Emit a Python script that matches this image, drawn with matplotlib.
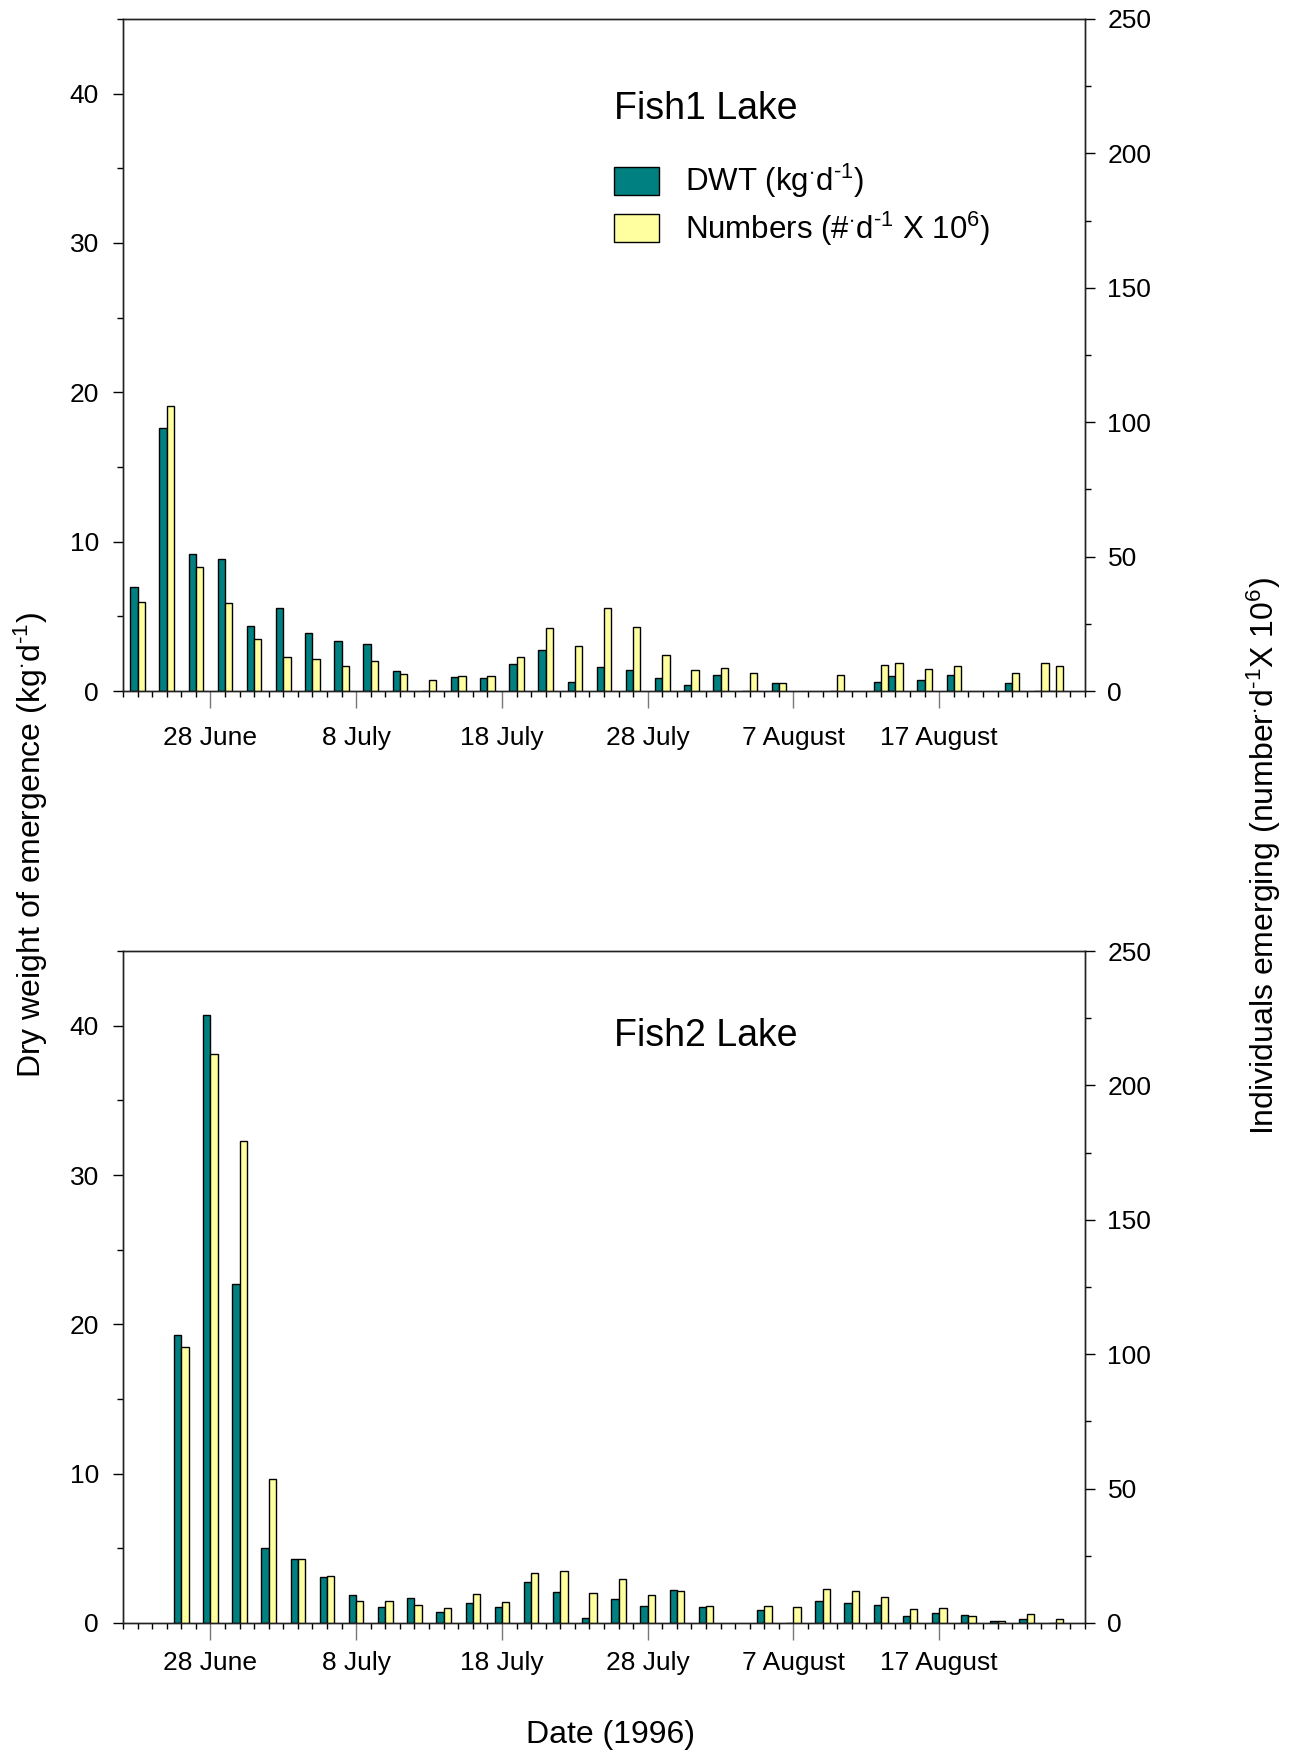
import numpy as np
import matplotlib
matplotlib.use('Agg')
import matplotlib.pyplot as plt
import matplotlib.dates as mdates
from matplotlib.patches import Patch
from matplotlib.ticker import FixedLocator, FuncFormatter, MultipleLocator

plt.rcParams['font.family'] = ['Liberation Sans', 'DejaVu Sans']
plt.rcParams['mathtext.fontset'] = 'custom'
plt.rcParams['mathtext.rm'] = 'Liberation Sans'
plt.rcParams['mathtext.it'] = 'Liberation Sans:italic'
plt.rcParams['mathtext.bf'] = 'Liberation Sans:bold'

# Fish1 Lake
fish1_dates = ['1996-06-23', '1996-06-25', '1996-06-27', '1996-06-29', '1996-07-01',
               '1996-07-03', '1996-07-05', '1996-07-07', '1996-07-09', '1996-07-11',
               '1996-07-13', '1996-07-15', '1996-07-17', '1996-07-19', '1996-07-21',
               '1996-07-23', '1996-07-25', '1996-07-27', '1996-07-29', '1996-07-31',
               '1996-08-02', '1996-08-04', '1996-08-06', '1996-08-10', '1996-08-13',
               '1996-08-14', '1996-08-16', '1996-08-18', '1996-08-22', '1996-08-24',
               '1996-08-25']
fish1_dwt = [6.96, 17.6, 9.15, 8.82, 4.38, 5.56, 3.88, 3.33, 3.15, 1.32,
             0.0, 0.96, 0.89, 1.81, 2.77, 0.62, 1.63, 1.43, 0.85, 0.40,
             1.05, 0.0, 0.51, 0.0, 0.58, 0.98, 0.73, 1.05, 0.53, 0.0, 0.0]
fish1_num = [33.2, 105.9, 46.1, 32.9, 19.2, 12.8, 11.9, 9.2, 11.2, 6.4,
             4.0, 5.5, 5.7, 12.5, 23.3, 16.8, 30.9, 23.9, 13.5, 7.9,
             8.5, 6.7, 3.1, 5.9, 9.65, 10.4, 8.2, 9.4, 6.7, 10.3, 9.5]

# Fish2 Lake
fish2_dates = ['1996-06-26', '1996-06-28', '1996-06-30', '1996-07-02', '1996-07-04',
               '1996-07-06', '1996-07-08', '1996-07-10', '1996-07-12', '1996-07-14',
               '1996-07-16', '1996-07-18', '1996-07-20', '1996-07-22', '1996-07-24',
               '1996-07-26', '1996-07-28', '1996-07-30', '1996-08-01', '1996-08-05',
               '1996-08-07', '1996-08-09', '1996-08-11', '1996-08-13', '1996-08-15',
               '1996-08-17', '1996-08-19', '1996-08-21', '1996-08-23', '1996-08-25']
fish2_dwt = [19.27, 40.7, 22.67, 5.02, 4.27, 3.1, 1.88, 1.05, 1.67, 0.75,
             1.37, 1.07, 2.75, 2.05, 0.31, 1.63, 1.14, 2.21, 1.05, 0.85,
             0.0, 1.5, 1.34, 1.23, 0.47, 0.69, 0.51, 0.16, 0.27, 0.0]
fish2_num = [102.5, 211.6, 179.3, 53.7, 23.9, 17.6, 8.3, 8.3, 6.8, 5.6,
             10.8, 7.9, 18.5, 19.5, 11.0, 16.5, 10.5, 11.9, 6.45, 6.45,
             6.0, 12.7, 12.0, 9.7, 5.3, 5.6, 2.6, 0.9, 3.35, 1.4]

major_dates = ['1996-06-28', '1996-07-08', '1996-07-18', '1996-07-28', '1996-08-07', '1996-08-17']
date_range = ['1996-06-22', '1996-08-27']

TEAL = '#008080'
YELLOW = '#ffffa0'


def to_num(dates):
    return mdates.date2num(np.array(dates, dtype='datetime64[D]'))


def date_label(v, pos):
    d = mdates.num2date(v)
    return f"{d.day} {d.strftime('%B')}"


def draw_panel(ax, dates, dwt, num, title, title_y, xpad, legend=False):
    x = to_num(dates)
    ax2 = ax.twinx()
    ax.bar(x - 0.25, dwt, width=0.5, color=TEAL, edgecolor='black', linewidth=1)
    ax2.bar(x + 0.25, num, width=0.5, color=YELLOW, edgecolor='black', linewidth=1)

    lim = to_num(date_range)
    ax.set_xlim(lim[0], lim[1])
    ax.set_ylim(0, 45)
    ax2.set_ylim(0, 250)

    ax.xaxis.set_major_locator(FixedLocator(to_num(major_dates)))
    ax.xaxis.set_minor_locator(MultipleLocator(1))
    ax.xaxis.set_major_formatter(FuncFormatter(date_label))
    ax.set_yticks([0, 10, 20, 30, 40])
    ax.yaxis.set_minor_locator(MultipleLocator(5))
    ax2.set_yticks(range(0, 251, 50))
    ax2.yaxis.set_minor_locator(MultipleLocator(25))

    ax.tick_params(axis='x', which='major', direction='out', length=12, width=1,
                   color='#777777', labelsize=19, pad=xpad)
    ax.tick_params(axis='x', which='minor', direction='out', length=4.3, width=1)
    ax.tick_params(axis='y', which='major', direction='out', length=7.2, width=1,
                   labelsize=19, pad=10)
    ax.tick_params(axis='y', which='minor', direction='out', length=4.3, width=1)
    ax2.tick_params(axis='y', which='major', direction='out', length=7.2, width=1,
                    labelsize=19, pad=9)
    ax2.tick_params(axis='y', which='minor', direction='out', length=4.3, width=1)

    for a in (ax, ax2):
        for s in a.spines.values():
            s.set_linewidth(1)
            s.set_color('#222222')

    ax.text(0.51, title_y, title, transform=ax.transAxes, fontsize=27,
            ha='left', va='center')

    if legend:
        handles = [Patch(facecolor=TEAL, edgecolor='black', linewidth=1),
                   Patch(facecolor=YELLOW, edgecolor='black', linewidth=1)]
        labels = [r'DWT (kg$^{\cdot}$d$^{\text{-1}}$)',
                  r'Numbers (#$^{\cdot}$d$^{\text{-1}}$ X 10$^{6}$)']
        ax.legend(handles, labels, loc='upper left', bbox_to_anchor=(0.51, 0.787),
                  frameon=False, fontsize=22.5, handlelength=1.45, handleheight=1.0,
                  handletextpad=0.85, labelspacing=0.3, borderpad=0, borderaxespad=0)
    return ax2


fig = plt.figure(figsize=(13, 17.54), dpi=100)
ax_top = fig.add_axes([0.0946, 0.606, 0.740, 0.3832])
ax_bot = fig.add_axes([0.0946, 0.0747, 0.740, 0.3831])

draw_panel(ax_top, fish1_dates, fish1_dwt, fish1_num, 'Fish1 Lake', 0.866, 13.5, legend=True)
draw_panel(ax_bot, fish2_dates, fish2_dwt, fish2_num, 'Fish2 Lake', 0.874, 8)

fig.text(0.024, 0.518, r'Dry weight of emergence (kg$^{\cdot}$d$^{\text{-1}}$)', rotation=90,
         fontsize=23, ha='center', va='center')
fig.text(0.972, 0.512, r'Individuals emerging (number$^{\cdot}$d$^{\text{-1}}$X 10$^{6}$)',
         rotation=90, fontsize=23, ha='center', va='center')
fig.text(0.47, 0.011, 'Date (1996)', fontsize=23, ha='center', va='center')

fig.savefig('out.png', dpi=100)
